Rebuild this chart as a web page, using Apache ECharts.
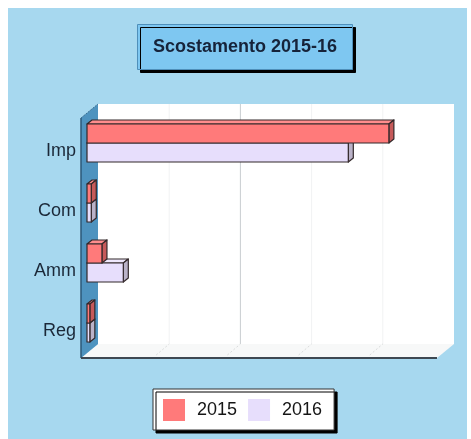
<!DOCTYPE html>
<html>
<head>
<meta charset="utf-8">
<style>
  html, body { margin: 0; padding: 0; background: #ffffff; }
  #chart { width: 471px; height: 439px; }
</style>
<script src="https://cdn.jsdelivr.net/npm/echarts@6/dist/echarts.min.js"></script>
</head>
<body>
<div id="chart"></div>
<script>
// Categories (top to bottom) and yearly values
const categories = ['Imp', 'Com', 'Amm', 'Reg'];
const values2015 = [4.24, 0.06, 0.21, 0.04];
const values2016 = [3.67, 0.06, 0.51, 0.04];
const seriesNames = ['2015', '2016'];
const axisMax = 5;
const axisStep = 1;
const gridLineValues = [1, 2, 3, 4];

// Pseudo-3D depth of the plot box and of each bar (pixels)
const FRONT = [-6, 5];    // front plane relative to the axis plane
const BACK = [11, -9];    // back wall relative to the axis plane
const BAR_DEPTH = [5, -4];

const colors = {
  '2015': { front: '#ff7a7a', top: '#ff8d8d', side: '#c65a5a' },
  '2016': { front: '#e7defc', top: '#efe8fd', side: '#bab2c8' }
};

const chart = echarts.init(document.getElementById('chart'), null, { renderer: 'canvas' });

function barRenderer(name, upper) {
  const c = colors[name];
  return function (params, api) {
    const idx = api.value(1);
    const p0 = api.coord([0, idx]);
    const p1 = api.coord([api.value(0), idx]);
    const band = api.size([0, 1])[1];
    const h = band * 0.317;
    const x0 = p0[0], x1 = p1[0];
    const y0 = upper ? p0[1] - h : p0[1];
    const y1 = y0 + h;
    const dx = BAR_DEPTH[0], dy = BAR_DEPTH[1];
    const line = { stroke: '#33282a', lineWidth: 1.2, lineJoin: 'round' };
    return {
      type: 'group',
      children: [
        { type: 'polygon', shape: { points: [[x0, y0], [x1, y0], [x1 + dx, y0 + dy], [x0 + dx, y0 + dy]] },
          style: Object.assign({ fill: c.top }, line) },
        { type: 'polygon', shape: { points: [[x1, y0], [x1 + dx, y0 + dy], [x1 + dx, y1 + dy], [x1, y1]] },
          style: Object.assign({ fill: c.side }, line) },
        { type: 'rect', shape: { x: x0, y: y0, width: x1 - x0, height: h },
          style: Object.assign({ fill: c.front }, line) }
      ]
    };
  };
}

// Walls, floor and grid lines of the plot box
function frameRenderer(params, api) {
  const cs = params.coordSys;
  const L = cs.x, T = cs.y, R = cs.x + cs.width, B = cs.y + cs.height;
  const f = (x, y) => [x + FRONT[0], y + FRONT[1]];
  const b = (x, y) => [x + BACK[0], y + BACK[1]];
  const children = [];
  // back wall
  children.push({ type: 'polygon', shape: { points: [b(L, T), b(R, T), b(R, B), b(L, B)] },
    style: { fill: '#ffffff' } });
  // floor
  children.push({ type: 'polygon', shape: { points: [f(L, B), f(R, B), b(R, B), b(L, B)] },
    style: { fill: '#f7f8f8' } });
  // grid lines on the back wall and faint ticks across the floor
  gridLineValues.forEach(v => {
    const x = api.coord([v, 0])[0];
    children.push({ type: 'line', shape: { x1: x + BACK[0], y1: T + BACK[1], x2: x + BACK[0], y2: B + BACK[1] },
      style: { stroke: v === 2 ? '#c9cdd0' : '#f1f2f3', lineWidth: 1 } });
    children.push({ type: 'line', shape: { x1: x + FRONT[0] + 4, y1: B + FRONT[1] - 3, x2: x + BACK[0], y2: B + BACK[1] },
      style: { stroke: '#dadcdc', lineWidth: 1, lineDash: [2, 2] } });
  });
  // left wall
  children.push({ type: 'polygon', shape: { points: [f(L, T), b(L, T), b(L, B), f(L, B)] },
    style: { fill: '#4e93bf' } });
  children.push({ type: 'line', shape: { x1: L + FRONT[0], y1: T + FRONT[1], x2: L + FRONT[0], y2: B + FRONT[1] },
    style: { stroke: '#2c5878', lineWidth: 1.5 } });
  children.push({ type: 'line', shape: { x1: L + FRONT[0], y1: T + FRONT[1], x2: L + BACK[0], y2: T + BACK[1] },
    style: { stroke: '#3c6f92', lineWidth: 1, lineDash: [2, 1] } });
  // front edge of the floor
  children.push({ type: 'line', shape: { x1: L + FRONT[0], y1: B + FRONT[1], x2: R + FRONT[0], y2: B + FRONT[1] },
    style: { stroke: '#3e4852', lineWidth: 2 } });
  return { type: 'group', children };
}

const option = {
  backgroundColor: '#ffffff',
  animation: false,
  graphic: [{
    type: 'rect', z: -10, silent: true,
    shape: { x: 8, y: 8, width: 459, height: 431 },
    style: { fill: '#a7d8ef' }
  }],
  title: {
    text: 'Scostamento 2015-16',
    left: 137, top: 24,
    padding: [13, 16, 13, 16],
    backgroundColor: '#7ec7f1',
    borderColor: '#4f8fba',
    borderWidth: 1,
    shadowColor: '#000000',
    shadowOffsetX: 3, shadowOffsetY: 3, shadowBlur: 0,
    textStyle: { fontFamily: 'Liberation Sans', fontSize: 18, fontWeight: 'bold', color: '#16233a', lineHeight: 20 }
  },
  legend: {
    data: seriesNames,
    left: 153, top: 389,
    itemWidth: 22, itemHeight: 22, itemGap: 11,
    icon: 'rect',
    padding: [10, 12, 9, 10],
    backgroundColor: '#ffffff',
    borderColor: '#333333',
    borderWidth: 1,
    shadowColor: '#000000',
    shadowOffsetX: 3, shadowOffsetY: 3, shadowBlur: 0,
    textStyle: { fontFamily: 'Liberation Sans', fontSize: 18, color: '#151515', padding: [0, 0, 0, 7] }
  },
  grid: { left: 87, top: 113, width: 356, height: 240, outerBoundsMode: 'none' },
  xAxis: {
    type: 'value', min: 0, max: axisMax, interval: axisStep,
    axisLine: { show: false }, axisTick: { show: false },
    axisLabel: { show: false }, splitLine: { show: false }
  },
  yAxis: {
    type: 'category', data: categories, inverse: true,
    axisLine: { show: false }, axisTick: { show: false }, splitLine: { show: false },
    axisLabel: { fontFamily: 'Liberation Sans', fontSize: 18, color: '#1b2838', margin: 11,
      verticalAlign: 'top', lineHeight: 16 }
  },
  series: [
    { type: 'custom', name: 'frame', z: 1, silent: true, renderItem: frameRenderer,
      encode: { x: 0, y: 1 }, data: [[0, 0]] },
    { type: 'custom', name: '2016', z: 3, renderItem: barRenderer('2016', false),
      itemStyle: { color: colors['2016'].front },
      encode: { x: 0, y: 1 }, data: values2016.map((v, i) => [v, i]) },
    { type: 'custom', name: '2015', z: 4, renderItem: barRenderer('2015', true),
      itemStyle: { color: colors['2015'].front },
      encode: { x: 0, y: 1 }, data: values2015.map((v, i) => [v, i]) }
  ]
};

chart.setOption(option);
</script>
</body>
</html>
